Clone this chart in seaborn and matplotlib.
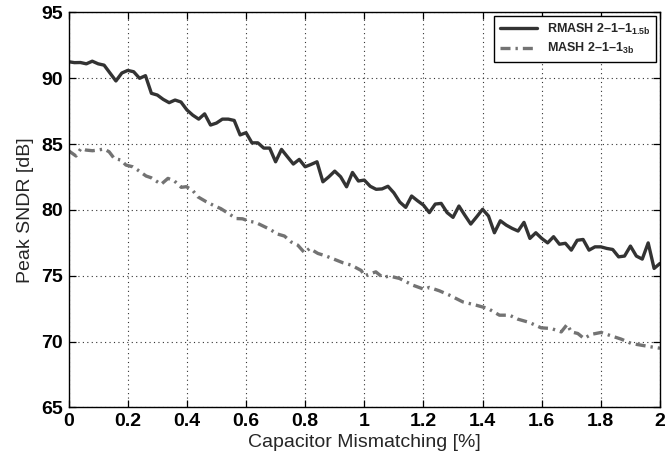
import numpy as np
import pandas as pd
import matplotlib
matplotlib.use("Agg")
import matplotlib.pyplot as plt
import seaborn as sns

# ---- data ----
rmash_x = [0.00, 0.02, 0.04, 0.06, 0.08, 0.10, 0.12, 0.14, 0.16, 0.18, 0.20, 0.22, 0.24, 0.26, 0.28,
           0.30, 0.32, 0.34, 0.36, 0.38, 0.40, 0.42, 0.44, 0.46, 0.48, 0.50,
           0.52, 0.54, 0.56, 0.58, 0.60, 0.62, 0.64, 0.66, 0.68, 0.70, 0.72, 0.74, 0.76, 0.78,
           0.80, 0.82, 0.84, 0.86, 0.88, 0.90, 0.92, 0.94, 0.96, 0.98, 1.00,
           1.02, 1.04, 1.06, 1.08, 1.10, 1.12, 1.14, 1.16, 1.18, 1.20, 1.22, 1.24, 1.26, 1.28,
           1.30, 1.32, 1.34, 1.36, 1.38, 1.40, 1.42, 1.44, 1.46, 1.48, 1.50,
           1.52, 1.54, 1.56, 1.58, 1.60, 1.62, 1.64, 1.66, 1.68, 1.70, 1.72, 1.74, 1.76, 1.78,
           1.80, 1.82, 1.84, 1.86, 1.88, 1.90, 1.92, 1.94, 1.96, 1.98, 2.00]
rmash_y = [91.26, 91.19, 91.20, 91.10, 91.30, 91.10, 91.00, 90.40, 89.80, 90.40, 90.60, 90.50, 90.00, 90.20, 88.86,
           88.73, 88.40, 88.15, 88.35, 88.20, 87.60, 87.20, 86.90, 87.30, 86.45, 86.60,
           86.90, 86.90, 86.80, 85.70, 85.87, 85.10, 85.10, 84.70, 84.70, 83.66, 84.60, 84.04, 83.49, 83.84,
           83.28, 83.46, 83.66, 82.14, 82.52, 82.95, 82.52, 81.76, 82.85, 82.20, 82.27,
           81.80, 81.57, 81.60, 81.80, 81.30, 80.60, 80.20, 81.06, 80.70, 80.37, 79.80, 80.45, 80.50, 79.80,
           79.44, 80.30, 79.60, 78.93, 79.48, 80.05, 79.54, 78.27, 79.18, 78.85, 78.60,
           78.40, 79.06, 77.84, 78.27, 77.84, 77.50, 77.97, 77.40, 77.47, 76.95, 77.70, 77.76, 76.95, 77.20,
           77.20, 77.08, 77.00, 76.44, 76.50, 77.26, 76.50, 76.27, 77.50, 75.56, 75.94]

mash_x = [0.000, 0.025, 0.042, 0.059, 0.081, 0.098, 0.120, 0.137, 0.154, 0.177, 0.194, 0.217, 0.234,
          0.262, 0.279, 0.313, 0.336, 0.358, 0.381, 0.398, 0.419, 0.437, 0.466, 0.490, 0.515, 0.543,
          0.566, 0.588, 0.610, 0.633, 0.656, 0.679, 0.707, 0.730, 0.752, 0.775, 0.798, 0.815, 0.843,
          0.871, 0.899, 0.928, 0.956, 0.990, 1.000, 1.039, 1.062, 1.085, 1.119, 1.164, 1.203, 1.220,
          1.254, 1.288, 1.333, 1.378, 1.418, 1.457, 1.491, 1.519, 1.558, 1.598, 1.632, 1.666, 1.686,
          1.700, 1.722, 1.743, 1.767, 1.801, 1.835, 1.869, 1.903, 1.937, 1.971, 2.000]
mash_y = [84.50, 84.10, 84.68, 84.55, 84.50, 84.55, 84.63, 84.42, 83.92, 83.79, 83.41, 83.28, 83.03,
          82.58, 82.45, 81.95, 82.40, 82.20, 81.72, 81.77, 81.50, 81.00, 80.62, 80.35, 80.10, 79.70,
          79.35, 79.33, 79.15, 79.05, 78.80, 78.55, 78.17, 78.02, 77.58, 77.33, 76.75, 77.08, 76.70,
          76.50, 76.25, 75.99, 75.81, 75.40, 75.00, 75.30, 74.88, 74.98, 74.80, 74.29, 73.97, 74.12,
          73.86, 73.53, 73.02, 72.77, 72.52, 72.01, 72.01, 71.71, 71.46, 71.05, 71.00, 70.74, 71.31,
          70.74, 70.62, 70.24, 70.55, 70.70, 70.44, 70.19, 69.86, 69.73, 69.60, 69.50]

series_names = ["RMASH 2\u20131\u20131$_{\\mathbf{1.5b}}$", "MASH 2\u20131\u20131$_{\\mathbf{3b}}$"]
x_ticks = [0, 0.2, 0.4, 0.6, 0.8, 1.0, 1.2, 1.4, 1.6, 1.8, 2.0]
x_tick_labels = ["0", "0.2", "0.4", "0.6", "0.8", "1", "1.2", "1.4", "1.6", "1.8", "2"]
y_ticks = [65, 70, 75, 80, 85, 90, 95]
x_label = "Capacitor Mismatching [%]"
y_label = "Peak SNDR [dB]"

# ---- style ----
sns.set_style("white")
plt.rcParams["font.family"] = ["Liberation Sans", "DejaVu Sans"]
plt.rcParams["mathtext.fontset"] = "custom"
plt.rcParams["mathtext.rm"] = "Liberation Sans"
plt.rcParams["mathtext.bf"] = "Liberation Sans:bold"
plt.rcParams["mathtext.it"] = "Liberation Sans:italic"

fig = plt.figure(figsize=(6.66, 4.62), dpi=100)
ax = fig.add_axes([0.103, 0.118, 0.888, 0.855])

df1 = pd.DataFrame({"x": rmash_x, "y": rmash_y})
df2 = pd.DataFrame({"x": mash_x, "y": mash_y})

sns.lineplot(data=df1, x="x", y="y", ax=ax, color="#333333", linewidth=2.4,
             label=series_names[0], sort=False)
sns.lineplot(data=df2, x="x", y="y", ax=ax, color="#737373", linewidth=2.4,
             label=series_names[1], sort=False)
ax.lines[1].set_dashes((3.0, 1.5, 0.7, 1.5))

ax.set_xlim(0, 2)
ax.set_ylim(65, 95)
ax.set_xticks(x_ticks)
ax.set_xticklabels(x_tick_labels)
ax.set_yticks(y_ticks)

ax.grid(True, linestyle=(0, (1, 3)), color="#333333", linewidth=0.8)
for s in ax.spines.values():
    s.set_color("black")
    s.set_linewidth(1.0)
    s.set_visible(True)

ax.tick_params(axis="both", which="both", direction="in", length=5, width=0.9,
               top=True, right=True, bottom=True, left=True,
               labelsize=14, pad=4, colors="black")
for lab in ax.get_xticklabels() + ax.get_yticklabels():
    lab.set_fontweight("bold")

ax.set_xlabel(x_label, fontsize=14, labelpad=3)
ax.set_ylabel(y_label, fontsize=14, labelpad=5)

leg = ax.legend(loc="upper right", frameon=True, fancybox=False,
                edgecolor="black", borderaxespad=0.3, handlelength=3.0,
                labelspacing=0.35, borderpad=0.45, prop={"weight": "bold", "size": 9})
leg.get_frame().set_linewidth(1.0)
leg.get_frame().set_alpha(1)

fig.savefig("out.png", dpi=100)
